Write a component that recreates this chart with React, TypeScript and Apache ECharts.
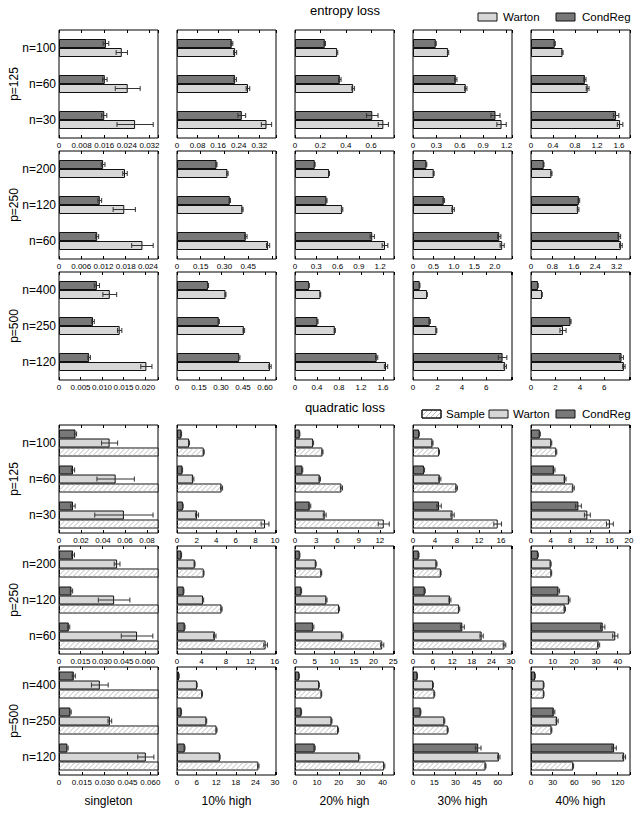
import React, { useEffect, useRef } from 'react';
import * as echarts from 'echarts';

// ---------- labels ----------
const columnTitles = ['singleton', '10% high', '20% high', '30% high', '40% high'];
const pLabels = ['p=125', 'p=250', 'p=500'];
// categories listed bottom -> top
const nLabels = [
  ['n=30', 'n=60', 'n=100'],
  ['n=60', 'n=120', 'n=200'],
  ['n=120', 'n=250', 'n=400'],
];

// ---------- entropy loss ----------
const entTicks = [
  [['0', '0.008', '0.016', '0.024', '0.032'], ['0', '0.08', '0.16', '0.24', '0.32'], ['0', '0.2', '0.4', '0.6'], ['0', '0.3', '0.6', '0.9', '1.2'], ['0', '0.4', '0.8', '1.2', '1.6']],
  [['0', '0.006', '0.012', '0.018', '0.024'], ['0', '0.15', '0.30', '0.45'], ['0', '0.3', '0.6', '0.9', '1.2'], ['0', '0.5', '1.0', '1.5', '2.0'], ['0', '0.8', '1.6', '2.4', '3.2']],
  [['0', '0.005', '0.010', '0.015', '0.020'], ['0', '0.15', '0.30', '0.45', '0.60'], ['0', '0.4', '0.8', '1.2', '1.6'], ['0', '2', '4', '6'], ['0', '2', '4', '6']],
];
const entMax = [
  [0.035, 0.385, 0.78, 1.27, 1.8],
  [0.0267, 0.626, 1.397, 2.42, 3.7],
  [0.023, 0.675, 1.8, 8.1, 8.1],
];
const entCondReg = [
  [[0.016, 0.0162, 0.0166], [0.252, 0.226, 0.213], [0.609, 0.353, 0.235], [1.058, 0.549, 0.292], [1.547, 0.98, 0.432]],
  [[0.0103, 0.011, 0.0119], [0.435, 0.334, 0.25], [1.09, 0.444, 0.279], [2.108, 0.752, 0.328], [3.3, 1.79, 0.476]],
  [[0.007, 0.0079, 0.0088], [0.424, 0.285, 0.212], [1.485, 0.409, 0.255], [7.33, 1.37, 0.55], [7.41, 3.23, 0.57]],
];
const entCondRegErr = [
  [[0.0009, 0.0008, 0.001], [0.015, 0.005, 0.004], [0.045, 0.01, 0.005], [0.058, 0.015, 0.006], [0.05, 0.02, 0.01]],
  [[0.0004, 0.0005, 0.0005], [0.008, 0.004, 0.003], [0.03, 0.008, 0.005], [0.04, 0.02, 0.01], [0.05, 0.03, 0.01]],
  [[0.0003, 0.0003, 0.0006], [0.005, 0.004, 0.003], [0.02, 0.01, 0.005], [0.35, 0.05, 0.02], [0.15, 0.05, 0.02]],
];
const entWarton = [
  [[0.0269, 0.0243, 0.0222], [0.348, 0.276, 0.226], [0.696, 0.458, 0.332], [1.136, 0.677, 0.45], [1.62, 1.03, 0.573]],
  [[0.0225, 0.0176, 0.0178], [0.576, 0.414, 0.319], [1.27, 0.665, 0.481], [2.18, 0.98, 0.507], [3.36, 1.76, 0.765]],
  [[0.0203, 0.0141, 0.0118], [0.634, 0.456, 0.331], [1.655, 0.724, 0.463], [7.54, 1.92, 1.15], [7.6, 2.62, 0.9]],
];
const entWartonErr = [
  [[0.0064, 0.0044, 0.002], [0.02, 0.007, 0.006], [0.04, 0.01, 0.005], [0.06, 0.015, 0.008], [0.05, 0.025, 0.01]],
  [[0.0029, 0.003, 0.0006], [0.01, 0.004, 0.004], [0.04, 0.01, 0.006], [0.05, 0.03, 0.01], [0.05, 0.03, 0.02]],
  [[0.0013, 0.0005, 0.0016], [0.008, 0.005, 0.003], [0.03, 0.01, 0.005], [0.1, 0.03, 0.02], [0.1, 0.25, 0.02]],
];

// ---------- quadratic loss ----------
const quadTicks = [
  [['0', '0.02', '0.04', '0.06', '0.08'], ['0', '2', '4', '6', '8', '10'], ['0', '3', '6', '9', '12'], ['0', '4', '8', '12', '16'], ['0', '4', '8', '12', '16', '20']],
  [['0', '0.015', '0.030', '0.045', '0.060'], ['0', '4', '8', '12', '16'], ['0', '5', '10', '15', '20', '25'], ['0', '6', '12', '18', '24', '30'], ['0', '10', '20', '30', '40']],
  [['0', '0.015', '0.030', '0.045', '0.060'], ['0', '6', '12', '18', '24', '30'], ['0', '10', '20', '30', '40'], ['0', '15', '30', '45', '60'], ['0', '30', '60', '90', '120']],
];
const quadMax = [
  [0.09, 10.1, 14, 18, 20.2],
  [0.069, 16.2, 25.2, 30.3, 45.7],
  [0.065, 30.3, 45.2, 70, 137],
];
const quadCondReg = [
  [[0.0127, 0.0127, 0.015], [0.6, 0.55, 0.45], [2.08, 1.05, 0.66], [4.74, 2.0, 1.1], [9.67, 4.69, 1.8]],
  [[0.0068, 0.0087, 0.0098], [1.26, 1.1, 0.72], [4.6, 1.6, 1.2], [15.1, 3.6, 1.75], [33.1, 12.7, 3.2]],
  [[0.0055, 0.0075, 0.0097], [2.36, 1.35, 0.6], [9.0, 2.9, 1.9], [46.1, 5.4, 3.1], [115, 31.5, 5.6]],
];
const quadCondRegErr = [
  [[0.002, 0.0015, 0.001], [0.03, 0.02, 0.02], [0.15, 0.05, 0.03], [0.4, 0.1, 0.05], [0.6, 0.2, 0.1]],
  [[0.0007, 0.0008, 0.001], [0.05, 0.04, 0.03], [0.2, 0.08, 0.05], [0.6, 0.15, 0.1], [1.0, 0.5, 0.2]],
  [[0.0005, 0.0005, 0.001], [0.08, 0.05, 0.03], [0.2, 0.1, 0.05], [2.0, 0.2, 0.1], [3.0, 1.5, 0.3]],
];
const quadWarton = [
  [[0.059, 0.0515, 0.046], [2.05, 1.64, 1.23], [4.2, 3.5, 2.55], [7.19, 4.87, 3.54], [11.5, 6.94, 4.14]],
  [[0.0544, 0.0384, 0.0405], [6.18, 4.26, 2.9], [12.0, 8.0, 5.3], [21.0, 11.3, 7.2], [38.9, 17.6, 9.1]],
  [[0.057, 0.0334, 0.0268], [13.1, 9.0, 6.1], [29.3, 16.7, 11.0], [60.7, 22.2, 14.2], [128.9, 36.1, 17.7]],
];
const quadWartonErr = [
  [[0.0265, 0.017, 0.0073], [0.15, 0.08, 0.05], [0.2, 0.1, 0.08], [0.3, 0.2, 0.1], [0.6, 0.2, 0.1]],
  [[0.011, 0.011, 0.002], [0.2, 0.1, 0.06], [0.2, 0.15, 0.1], [0.5, 0.3, 0.15], [1.2, 0.4, 0.2]],
  [[0.0053, 0.0012, 0.0055], [0.1, 0.1, 0.05], [0.3, 0.2, 0.1], [0.8, 0.3, 0.2], [2.0, 1.5, 0.3]],
];
const quadSample = [
  [[0.3, 0.2, 0.15], [8.98, 4.55, 2.73], [12.55, 6.57, 3.88], [15.4, 7.92, 4.74], [16.1, 8.63, 5.16]],
  [[0.25, 0.14, 0.09], [14.5, 7.28, 4.37], [22.2, 11.2, 6.7], [28.0, 14.1, 8.5], [31.2, 15.6, 9.4]],
  [[0.22, 0.12, 0.075], [24.9, 12.1, 7.7], [40.7, 19.7, 12.1], [51.3, 24.6, 15.2], [58.4, 28.4, 17.7]],
];
const quadSampleErr = [
  [[0, 0, 0], [0.4, 0.1, 0.05], [0.78, 0.15, 0.08], [0.7, 0.15, 0.08], [0.7, 0.2, 0.1]],
  [[0, 0, 0], [0.3, 0.1, 0.05], [0.4, 0.15, 0.1], [0.4, 0.2, 0.1], [0.5, 0.3, 0.15]],
  [[0, 0, 0], [0.2, 0.15, 0.1], [0.3, 0.2, 0.1], [0.3, 0.3, 0.2], [0.5, 0.5, 0.3]],
];

// ---------- layout / style ----------
const FONT = 'Liberation Sans, Arial, Helvetica, sans-serif';
const GRID_LEFT = [59, 177, 295, 413, 531];
const GRID_W = 99;
const GRID_H = 108;
const ENT_TOP = [30, 151, 272];
const QUAD_TOP = [425, 546, 667];
const BAR_W = 9;
const HATCH_COLOR = '#ababab';
const HATCH_STEP = 5;

const styleCondReg = { color: '#787878', borderColor: '#111', borderWidth: 1 };
const styleWarton = { color: '#d7d7d7', borderColor: '#111', borderWidth: 1 };
const styleSample = { color: '#ffffff', borderColor: '#111', borderWidth: 1 };

const barOffset = (nBars: number, i: number) => -(nBars * BAR_W) / 2 + BAR_W * i + BAR_W / 2;

function makeErrRenderer(nBars: number) {
  return (params: any, api: any) => {
    const c = api.value(0);
    const i = api.value(1);
    const lo = api.value(2);
    const hi = api.value(3);
    const p0 = api.coord([lo, c]);
    const p1 = api.coord([hi, c]);
    const y = p0[1] + barOffset(nBars, i);
    const h = 2.5;
    const st = { stroke: '#333', lineWidth: 1 };
    return {
      type: 'group',
      children: [
        { type: 'line', shape: { x1: p0[0], y1: y, x2: p1[0], y2: y }, style: st },
        { type: 'line', shape: { x1: p0[0], y1: y - h, x2: p0[0], y2: y + h }, style: st },
        { type: 'line', shape: { x1: p1[0], y1: y - h, x2: p1[0], y2: y + h }, style: st },
      ],
    };
  };
}

function makeHatchRenderer(nBars: number) {
  return (params: any, api: any) => {
    const c = api.value(0);
    const i = api.value(1);
    const v = api.value(2);
    const p0 = api.coord([0, c]);
    const p1 = api.coord([v, c]);
    const cs = params.coordSys;
    const xL = p0[0] + 0.5;
    const xR = Math.min(p1[0], cs.x + cs.width) - 0.5;
    const yc = p0[1] + barOffset(nBars, i);
    const yt = yc - BAR_W / 2 + 0.5;
    const yb = yc + BAR_W / 2 - 0.5;
    const h = yb - yt;
    const children: any[] = [];
    for (let t = xL - h + 1; t < xR; t += HATCH_STEP) {
      let x1 = t, y1 = yb, x2 = t + h, y2 = yt;
      if (x1 < xL) { y1 = yb - (xL - t); x1 = xL; }
      if (x2 > xR) { y2 = yb - (xR - t); x2 = xR; }
      if (x2 <= x1) continue;
      children.push({ type: 'line', shape: { x1, y1, x2, y2 }, style: { stroke: HATCH_COLOR, lineWidth: 0.8 } });
    }
    return { type: 'group', children };
  };
}

function buildOption() {
  const grid: any[] = [];
  const xAxis: any[] = [];
  const yAxis: any[] = [];
  const series: any[] = [];
  const graphic: any[] = [];
  let g = 0;

  const addPanel = (
    top: number,
    left: number,
    row: number,
    col: number,
    ticks: string[],
    max: number,
    bars: { name: string; values: number[]; errs: number[]; style: any; hatch?: boolean }[]
  ) => {
    grid.push({ left, top, width: GRID_W, height: GRID_H, show: true, borderColor: '#000', borderWidth: 1, backgroundColor: 'rgba(0,0,0,0)' });
    const interval = parseFloat(ticks[1]);
    const fmt = (v: number) => {
      const k = Math.round(v / interval);
      if (Math.abs(v - k * interval) > interval * 1e-6) return '';
      return ticks[k] ?? '';
    };
    const tickStyle = { color: '#000', width: 1 };
    xAxis.push({
      gridIndex: g, type: 'value', min: 0, max, interval, position: 'bottom',
      axisLine: { show: false },
      axisTick: { show: true, inside: true, length: 3, lineStyle: tickStyle },
      axisLabel: { show: true, fontSize: 8, margin: 3, color: '#000', fontFamily: FONT, formatter: fmt, showMaxLabel: true, showMinLabel: true },
      splitLine: { show: false },
    });
    xAxis.push({
      gridIndex: g, type: 'value', min: 0, max, interval, position: 'top',
      axisLine: { show: false },
      axisTick: { show: true, inside: true, length: 3, lineStyle: tickStyle },
      axisLabel: { show: false },
      splitLine: { show: false },
    });
    yAxis.push({
      gridIndex: g, type: 'category', data: nLabels[row], position: 'left',
      axisLine: { show: false }, axisTick: { show: false },
      axisLabel: { show: col === 0, fontSize: 12, margin: 3, color: '#000', fontFamily: FONT },
    });
    yAxis.push({
      gridIndex: g, type: 'category', data: nLabels[row], position: 'right',
      axisLine: { show: false },
      axisTick: { show: true, alignWithLabel: true, length: 2, lineStyle: tickStyle },
      axisLabel: { show: false },
    });
    const xi = 2 * g;
    const yi = 2 * g;
    bars.forEach((b) => {
      series.push({
        type: 'bar', name: b.name, xAxisIndex: xi, yAxisIndex: yi, data: b.values,
        barWidth: BAR_W, barGap: '0%', itemStyle: b.style, clip: true, silent: true,
        emphasis: { disabled: true },
      });
    });
    const hatchData: number[][] = [];
    bars.forEach((b, i) => {
      if (b.hatch) b.values.forEach((v, c) => hatchData.push([c, i, v]));
    });
    if (hatchData.length) {
      series.push({
        type: 'custom', xAxisIndex: xi, yAxisIndex: yi, data: hatchData,
        encode: { x: 2, y: 0 }, renderItem: makeHatchRenderer(bars.length),
        clip: true, silent: true, z: 3,
      });
    }
    const errData: number[][] = [];
    bars.forEach((b, i) =>
      b.errs.forEach((e, c) => {
        if (e > 0) errData.push([c, i, b.values[c] - e, b.values[c] + e]);
      })
    );
    series.push({
      type: 'custom', xAxisIndex: xi, yAxisIndex: yi, data: errData,
      encode: { x: [2, 3], y: 0 }, renderItem: makeErrRenderer(bars.length),
      clip: true, silent: true, z: 5,
    });
    g++;
  };

  for (let r = 0; r < 3; r++) {
    for (let c = 0; c < 5; c++) {
      addPanel(ENT_TOP[r], GRID_LEFT[c], r, c, entTicks[r][c], entMax[r][c], [
        { name: 'CondReg', values: entCondReg[r][c], errs: entCondRegErr[r][c], style: styleCondReg },
        { name: 'Warton', values: entWarton[r][c], errs: entWartonErr[r][c], style: styleWarton },
      ]);
    }
  }
  for (let r = 0; r < 3; r++) {
    for (let c = 0; c < 5; c++) {
      addPanel(QUAD_TOP[r], GRID_LEFT[c], r, c, quadTicks[r][c], quadMax[r][c], [
        { name: 'CondReg', values: quadCondReg[r][c], errs: quadCondRegErr[r][c], style: styleCondReg },
        { name: 'Warton', values: quadWarton[r][c], errs: quadWartonErr[r][c], style: styleWarton },
        { name: 'Sample', values: quadSample[r][c], errs: quadSampleErr[r][c], style: styleSample, hatch: true },
      ]);
    }
  }

  const txt = (x: number, y: number, text: string, size: number, align = 'center', rotation = 0) => ({
    type: 'text', x, y, rotation, silent: true,
    style: { text, fill: '#000', fontSize: size, fontFamily: FONT, align, verticalAlign: 'middle' },
  });

  // section titles
  graphic.push(txt(345, 10, 'entropy loss', 13));
  graphic.push(txt(345, 407, 'quadratic loss', 13));
  // p labels
  for (let r = 0; r < 3; r++) {
    graphic.push(txt(14, ENT_TOP[r] + GRID_H / 2, pLabels[r], 12, 'center', Math.PI / 2));
    graphic.push(txt(14, QUAD_TOP[r] + GRID_H / 2, pLabels[r], 12, 'center', Math.PI / 2));
  }
  // column titles
  for (let c = 0; c < 5; c++) {
    graphic.push(txt(GRID_LEFT[c] + GRID_W / 2, 801, columnTitles[c], 12));
  }
  // legends
  const box = (x: number, y: number, fill: string) => ({
    type: 'rect', silent: true, shape: { x, y, width: 19, height: 8 },
    style: { fill, stroke: '#111', lineWidth: 1 },
  });
  const hatch = (x: number, y: number) => {
    const out: any[] = [];
    const w = 19, h = 8;
    for (let t = -h + 1; t < w; t += HATCH_STEP) {
      let x1 = t, y1 = h, x2 = t + h, y2 = 0;
      if (x1 < 0) { y1 = h + x1; x1 = 0; }
      if (x2 > w) { y2 = x2 - w; x2 = w; }
      out.push({ type: 'line', silent: true, shape: { x1: x + x1, y1: y + y1, x2: x + x2, y2: y + y2 }, style: { stroke: HATCH_COLOR, lineWidth: 0.8 } });
    }
    return out;
  };
  // entropy legend
  graphic.push(box(478, 13, '#d7d7d7'));
  graphic.push(txt(503, 17, 'Warton', 11.5, 'left'));
  graphic.push(box(556, 13, '#787878'));
  graphic.push(txt(582, 17, 'CondReg', 11.5, 'left'));
  // quadratic legend
  graphic.push(box(422, 410, '#ffffff'));
  hatch(422, 410).forEach((l) => graphic.push(l));
  graphic.push({ type: 'rect', silent: true, shape: { x: 422, y: 410, width: 19, height: 8 }, style: { fill: 'none', stroke: '#111', lineWidth: 1 } });
  graphic.push(txt(446, 414, 'Sample', 11.5, 'left'));
  graphic.push(box(489, 410, '#d7d7d7'));
  graphic.push(txt(513, 414, 'Warton', 11.5, 'left'));
  graphic.push(box(556, 410, '#787878'));
  graphic.push(txt(582, 414, 'CondReg', 11.5, 'left'));

  return {
    animation: false,
    backgroundColor: '#ffffff',
    textStyle: { fontFamily: FONT },
    grid,
    xAxis,
    yAxis,
    series,
    graphic: { elements: graphic },
  };
}

export default function App() {
  const ref = useRef<HTMLDivElement>(null);
  useEffect(() => {
    if (!ref.current) return;
    const chart = echarts.init(ref.current, undefined, { renderer: 'svg' });
    chart.setOption(buildOption() as any);
    return () => chart.dispose();
  }, []);
  return (
    <div
      ref={ref}
      style={{ position: 'absolute', left: 0, top: 0, width: 641, height: 814, background: '#fff' }}
    />
  );
}
